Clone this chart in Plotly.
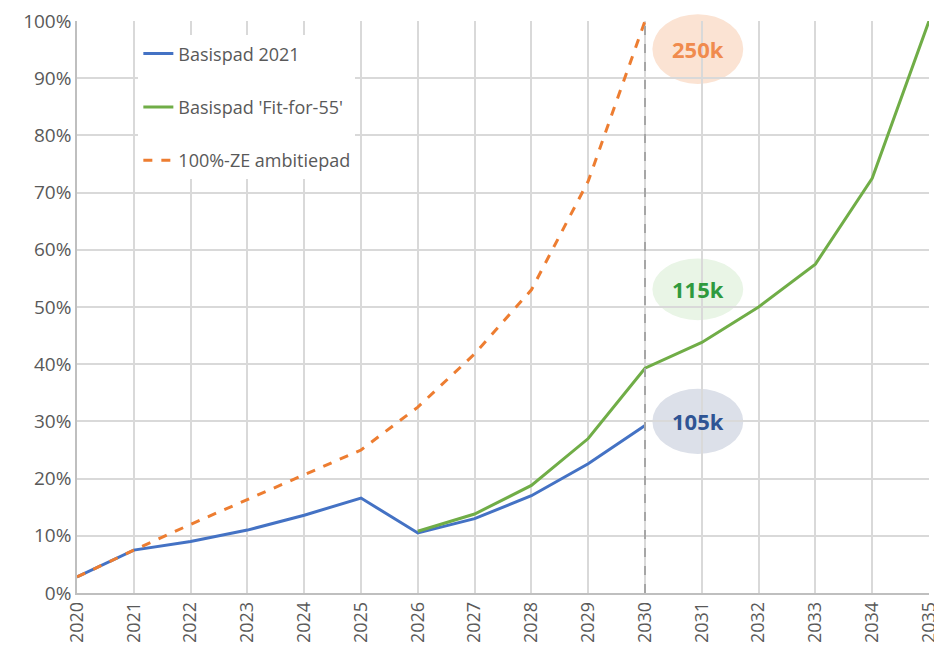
import plotly.graph_objects as go

years_blue = [2020, 2021, 2022, 2023, 2024, 2025, 2026, 2027, 2028, 2029, 2030]
basispad_2021 = [2.8, 7.5, 9.0, 11.0, 13.6, 16.6, 10.5, 13.0, 17.0, 22.6, 29.3]

years_green = [2026, 2027, 2028, 2029, 2030, 2031, 2032, 2033, 2034, 2035]
basispad_ff55 = [10.8, 13.8, 18.8, 27.0, 39.3, 43.8, 50.0, 57.5, 72.5, 100.0]

years_orange = [2020, 2021, 2022, 2023, 2024, 2025, 2026, 2027, 2028, 2029, 2030]
ze_ambitie = [2.8, 7.5, 12.0, 16.3, 20.6, 25.0, 32.5, 41.8, 53.0, 72.0, 100.0]

year_ticks = list(range(2020, 2036))
pct_ticks = list(range(0, 101, 10))

X_RANGE = [2020, 2035]
Y_RANGE = [0, 100]

labels = [
    {"text": "250k", "x": 2030.93, "y": 95.1, "h": 12.2, "fill": "#FBE3D3", "color": "#F08B4E"},
    {"text": "115k", "x": 2030.93, "y": 53.1, "h": 10.8, "fill": "#E9F5E6", "color": "#2F9A3E"},
    {"text": "105k", "x": 2030.93, "y": 30.0, "h": 11.4, "fill": "#DCE0E9", "color": "#2F5494"},
]


def to_frac(v, rng):
    return (v - rng[0]) / (rng[1] - rng[0])


fig = go.Figure()
fig.add_trace(go.Scatter(x=years_blue, y=basispad_2021, mode="lines", name="Basispad 2021",
                         line=dict(color="#4472C4", width=3), legendgroup="a"))
fig.add_trace(go.Scatter(x=years_green, y=basispad_ff55, mode="lines", name="Basispad 'Fit-for-55'",
                         line=dict(color="#70AD47", width=3), legendgroup="b"))
fig.add_trace(go.Scatter(x=years_orange, y=ze_ambitie, mode="lines", name="100%-ZE ambitiepad",
                         line=dict(color="#ED7D31", width=3, dash="dash"), legendgroup="c"))

for lb in labels:
    fig.add_shape(type="circle", xref="paper", yref="paper",
                  x0=to_frac(lb["x"] - 0.8, X_RANGE), x1=to_frac(lb["x"] + 0.8, X_RANGE),
                  y0=to_frac(lb["y"] - lb["h"] / 2, Y_RANGE), y1=to_frac(lb["y"] + lb["h"] / 2, Y_RANGE),
                  fillcolor=lb["fill"], line=dict(width=0), layer="below")
    fig.add_annotation(x=lb["x"], y=lb["y"], text="<b>" + lb["text"] + "</b>", showarrow=False,
                       font=dict(size=22, color=lb["color"], family="Open Sans"))

fig.add_shape(type="line", xref="x", yref="y", x0=2030, x1=2030, y0=0, y1=100,
              line=dict(color="#A6A6A6", width=2, dash="dash"), layer="above")

fig.update_layout(
    width=934, height=642,
    margin=dict(l=69, r=13, t=13, b=57),
    paper_bgcolor="white", plot_bgcolor="white",
    font=dict(family="Open Sans", color="#595959", size=18),
    showlegend=True,
    legend=dict(x=0.072, y=0.975, xanchor="left", yanchor="top",
                bgcolor="rgba(255,255,255,1)", tracegroupgap=27,
                font=dict(size=18, color="#595959")),
)
fig.update_xaxes(range=X_RANGE, tickmode="array", tickvals=year_ticks,
                 ticktext=[str(y) for y in year_ticks], tickangle=-90,
                 showgrid=True, gridcolor="#D9D9D9", gridwidth=1.5,
                 showline=True, linecolor="#BFBFBF", linewidth=1.5,
                 tickfont=dict(size=18, color="#595959"), ticks="", zeroline=False,
                 automargin=False, ticklabeloverflow="allow")
fig.update_yaxes(range=Y_RANGE, tickmode="array", tickvals=pct_ticks,
                 ticktext=[f"{p}%" for p in pct_ticks],
                 showgrid=True, gridcolor="#D9D9D9", gridwidth=1.5,
                 showline=True, linecolor="#BFBFBF", linewidth=1.5,
                 tickfont=dict(size=19, color="#595959"), ticks="", zeroline=False,
                 automargin=False, ticklabeloverflow="allow")

fig.write_html("out.html")
